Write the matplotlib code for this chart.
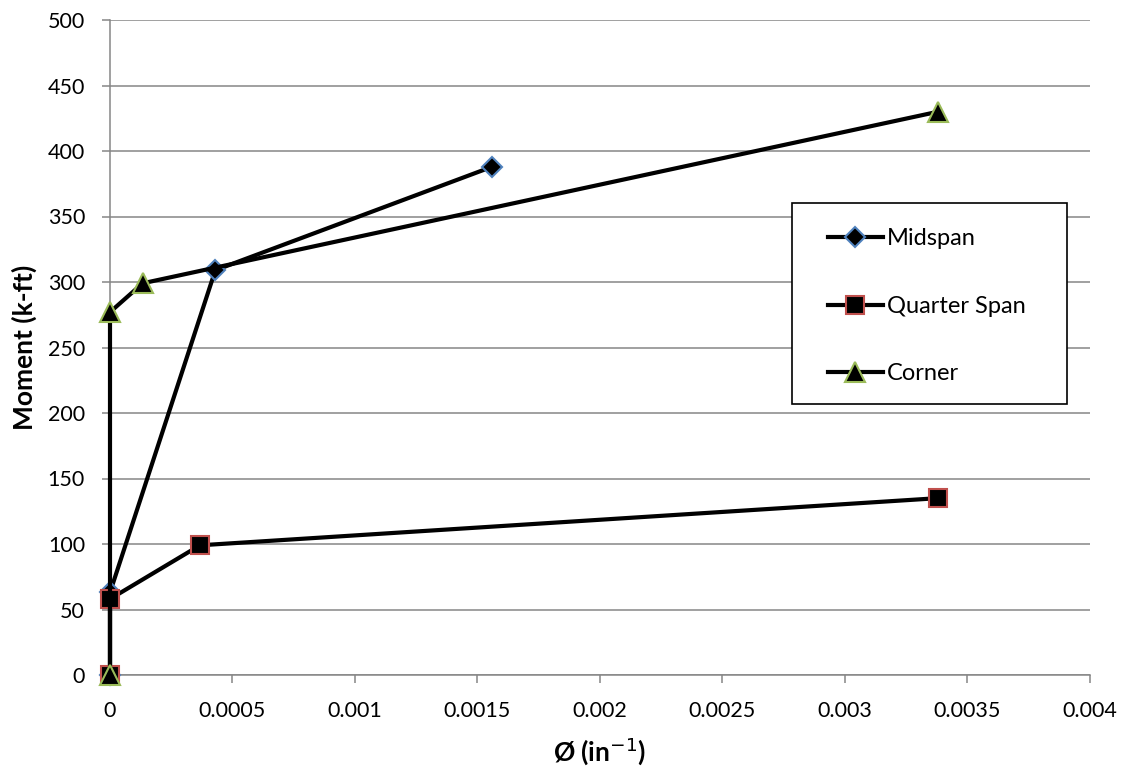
import matplotlib.pyplot as plt
from matplotlib.patches import Rectangle
from matplotlib.ticker import MultipleLocator, FuncFormatter

plt.rcParams['font.family'] = ['Lato', 'DejaVu Sans']

# Moment-curvature data
midspan_phi = [0, 0, 0.00043, 0.00156]
midspan_m = [0, 63, 309, 388]

quarter_phi = [0, 0, 0.000367, 0.00338]
quarter_m = [0, 58, 99, 135]

corner_phi = [0, 0, 0.000133, 0.00338]
corner_m = [0, 277, 299, 430]

fig = plt.figure(figsize=(11.34, 7.67), dpi=100)
ax = fig.add_axes([110 / 1134, 1 - 675 / 767, 980 / 1134, 655 / 767])

ax.plot(midspan_phi, midspan_m, color='black', lw=3, marker='D', ms=10,
        mfc='black', mec='#4F81BD', mew=1.5, label='Midspan', zorder=3,
        clip_on=False)
ax.plot(quarter_phi, quarter_m, color='black', lw=3, marker='s', ms=13,
        mfc='black', mec='#C0504D', mew=1.5, label='Quarter Span', zorder=4,
        clip_on=False)
ax.plot(corner_phi, corner_m, color='black', lw=3, marker='^', ms=14,
        mfc='black', mec='#9BBB59', mew=1.5, label='Corner', zorder=5,
        clip_on=False)

ax.set_xlim(0, 0.004)
ax.set_ylim(0, 500)
ax.xaxis.set_major_locator(MultipleLocator(0.0005))
ax.yaxis.set_major_locator(MultipleLocator(50))
ax.xaxis.set_major_formatter(FuncFormatter(lambda v, p: '0' if v == 0 else f'{v:g}'))
ax.grid(axis='y', color='#868686', lw=1.1)
ax.set_axisbelow(True)

for side in ['top', 'right']:
    ax.spines[side].set_visible(False)
for side in ['left', 'bottom']:
    ax.spines[side].set_color('#868686')
    ax.spines[side].set_linewidth(1.1)
ax.tick_params(axis='both', colors='#868686', labelcolor='black', labelsize=15.5,
               length=6, width=1.1)
ax.tick_params(axis='x', pad=13)
ax.tick_params(axis='y', pad=12)

ax.set_xlabel('Ø (in$^{-1}$)', fontsize=19, fontweight='bold', labelpad=10)
ax.set_ylabel('Moment (k-ft)', fontsize=19, fontweight='bold', labelpad=8)

# legend box drawn by hand, entries placed inside it
ax.add_patch(Rectangle((0.696, 0.413), 0.2805, 0.308, transform=ax.transAxes,
                       facecolor='white', edgecolor='black', lw=1.2,
                       zorder=6, clip_on=False))
leg = ax.legend(loc='upper left', bbox_to_anchor=(0.733, 0.682),
                fontsize=17, frameon=False, borderpad=0, borderaxespad=0,
                labelspacing=1.97, handlelength=2.3, handletextpad=0.2)
leg.set_zorder(7)

plt.savefig('out.png', dpi=100)
